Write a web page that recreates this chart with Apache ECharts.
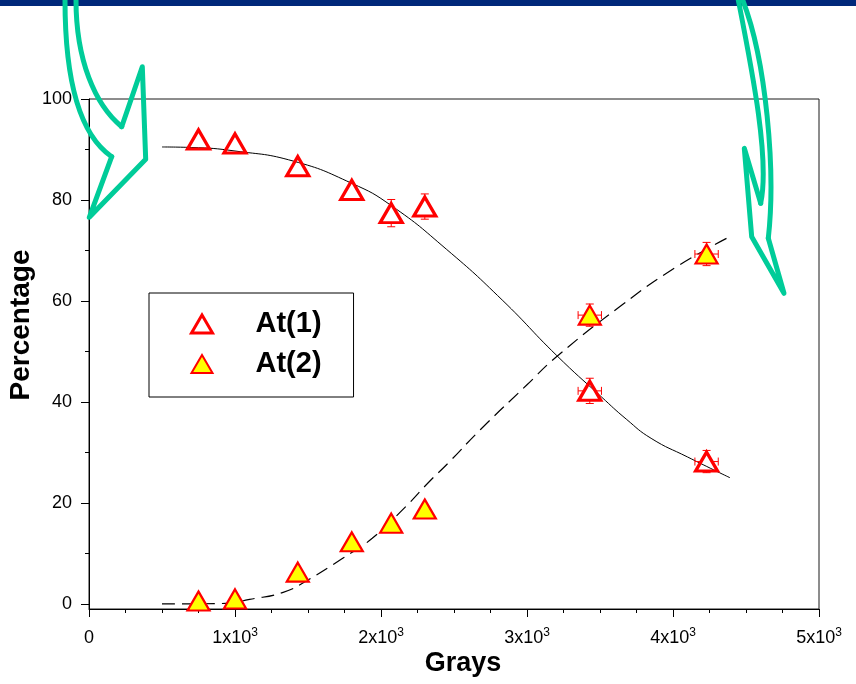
<!DOCTYPE html>
<html>
<head>
<meta charset="utf-8">
<script src="https://cdn.jsdelivr.net/npm/echarts@6/dist/echarts.min.js"></script>
<style>
  html, body { margin: 0; padding: 0; background: #ffffff; }
  #chart { width: 856px; height: 684px; }
</style>
</head>
<body>
<div id="chart"></div>
<script>
// Dose (Grays) at which each fraction was measured
const grays = [750, 1000, 1430, 1800, 2070, 2300, 3430, 4230];
const graysErr = [0, 0, 0, 0, 0, 0, 80, 80];

// At(1) percentage with its error
const at1 = [92.0, 91.2, 86.7, 82.0, 77.4, 78.7, 42.2, 28.2];
const at1Err = [1.0, 1.0, 1.0, 1.0, 2.7, 2.5, 2.5, 2.2];

// At(2) percentage with its error
const at2 = [0.6, 1.0, 6.3, 12.3, 16.0, 18.8, 57.2, 69.3];
const at2Err = [0.8, 0.8, 1.0, 1.0, 1.0, 1.0, 2.2, 2.3];

// Fitted curve for At(1) (solid)
const fit1Grays = [500, 700, 1000, 1400, 1800, 2070, 2450, 2830, 3200, 3510, 3680, 3850, 4100, 4390];
const fit1 = [90.5, 90.4, 89.7, 87.7, 83.3, 78.9, 70.2, 60.2, 49.3, 41.0, 36.6, 32.8, 29.1, 25.0];

// Fitted curve for At(2) (dashed)
const fit2Grays = [500, 940, 1100, 1330, 1490, 1735, 1940, 2170, 2330, 2460, 2680, 3000, 3200, 3650, 4010, 4380];
const fit2 = [0.0, 0.1, 0.9, 2.3, 4.6, 9.0, 13.0, 19.3, 24.2, 27.9, 34.5, 43.4, 48.9, 59.2, 66.5, 72.6];

// Axis ticks and their labels
const xTickValues = [0, 1000, 2000, 3000, 4000, 5000];
const xTickBase = ['0', '1x10', '2x10', '3x10', '4x10', '5x10'];
const xTickExp = ['', '3', '3', '3', '3', '3'];
const yTickValues = [0, 20, 40, 60, 80, 100];
const yMinorTickValues = [10, 30, 50, 70, 90];

const FONT = "'Liberation Sans', Arial, Helvetica, sans-serif";
const RED = '#ff0000';
const GREEN = '#00cc99';
const MARK_W = 22, MARK_H = 19;

function zip(xs, ys) { return xs.map((x, i) => [x, ys[i]]); }
function errData(xs, ys, ye, xe) { return xs.map((x, i) => [x, ys[i], ye[i], xe[i]]); }

// Error bars with caps; the stems stop at the edge of the triangle marker
function renderErrorBar(params, api) {
  const x = api.value(0), y = api.value(1), ey = api.value(2), ex = api.value(3);
  const style = { stroke: RED, lineWidth: 1, fill: null };
  const cap = 4;
  const c = api.coord([x, y]);
  const top = api.coord([x, y + ey]);
  const bot = api.coord([x, y - ey]);
  const children = [];
  const halfH = MARK_H / 2;
  if (c[1] - top[1] > halfH) {
    children.push(
      { type: 'line', shape: { x1: top[0], y1: top[1], x2: c[0], y2: c[1] - halfH }, style: style },
      { type: 'line', shape: { x1: top[0] - cap, y1: top[1], x2: top[0] + cap, y2: top[1] }, style: style }
    );
  }
  if (bot[1] - c[1] > halfH) {
    children.push(
      { type: 'line', shape: { x1: bot[0], y1: c[1] + halfH, x2: bot[0], y2: bot[1] }, style: style },
      { type: 'line', shape: { x1: bot[0] - cap, y1: bot[1], x2: bot[0] + cap, y2: bot[1] }, style: style }
    );
  }
  if (ex > 0) {
    const l = api.coord([x - ex, y]);
    const r = api.coord([x + ex, y]);
    const halfW = MARK_W / 4 + 1;
    children.push(
      { type: 'line', shape: { x1: l[0], y1: l[1], x2: c[0] - halfW, y2: c[1] }, style: style },
      { type: 'line', shape: { x1: c[0] + halfW, y1: c[1], x2: r[0], y2: r[1] }, style: style },
      { type: 'line', shape: { x1: l[0], y1: l[1] - cap, x2: l[0], y2: l[1] + cap }, style: style },
      { type: 'line', shape: { x1: r[0], y1: r[1] - cap, x2: r[0], y2: r[1] + cap }, style: style }
    );
  }
  return { type: 'group', children: children };
}

// Hand-drawn green arrows, built from curves and straight segments
const arrowStyle = { fill: null, stroke: GREEN, lineWidth: 5, lineJoin: 'round', lineCap: 'round' };
function bez(p0, c1, c2, p1) {
  return {
    type: 'bezierCurve', z: 10,
    shape: { x1: p0[0], y1: p0[1], cpx1: c1[0], cpy1: c1[1], cpx2: c2[0], cpy2: c2[1], x2: p1[0], y2: p1[1] },
    style: arrowStyle
  };
}
function poly(points) {
  return { type: 'polyline', z: 10, shape: { points: points }, style: arrowStyle };
}

const chart = echarts.init(document.getElementById('chart'), null, { renderer: 'canvas' });

chart.setOption({
  animation: false,
  backgroundColor: '#ffffff',
  textStyle: { fontFamily: FONT },
  grid: {
    left: 89, right: 37, top: 99, bottom: 75,
    show: true, borderColor: '#1a1a1a', borderWidth: 1, backgroundColor: 'transparent'
  },
  xAxis: {
    type: 'value', min: 0, max: 5000, interval: 1000,
    axisLine: { onZero: false, lineStyle: { color: '#000', width: 1 } },
    axisTick: { show: true, length: 8, lineStyle: { color: '#000' } },
    minorTick: { show: true, splitNumber: 4, length: 4, lineStyle: { color: '#000' } },
    splitLine: { show: false },
    axisLabel: {
      margin: 18,
      formatter: function (v) {
        const i = xTickValues.indexOf(v);
        if (i < 0) return '';
        return xTickExp[i] ? '{a|' + xTickBase[i] + '}{s|' + xTickExp[i] + '}' : '{a|' + xTickBase[i] + '}';
      },
      rich: {
        a: { fontSize: 18, color: '#000', fontFamily: FONT, lineHeight: 20, verticalAlign: 'bottom' },
        s: { fontSize: 12, color: '#000', fontFamily: FONT, lineHeight: 12, verticalAlign: 'top' }
      }
    }
  },
  yAxis: [
    {
      type: 'value', min: -1, max: 100,
      axisLine: { show: true, onZero: false, lineStyle: { color: '#000', width: 1 } },
      axisTick: { show: true, length: 8, customValues: yTickValues, lineStyle: { color: '#000' } },
      splitLine: { show: false },
      axisLabel: {
        customValues: yTickValues, margin: 17,
        fontSize: 18, color: '#000', fontFamily: FONT
      }
    },
    {
      type: 'value', min: -1, max: 100, position: 'left',
      axisLine: { show: false },
      axisTick: { show: true, length: 4, customValues: yMinorTickValues, lineStyle: { color: '#000' } },
      splitLine: { show: false },
      axisLabel: { show: false }
    }
  ],
  legend: {
    left: 149, top: 293, orient: 'vertical',
    borderColor: '#000', borderWidth: 1, borderRadius: 0,
    padding: [16, 32, 18, 41], itemGap: 10,
    itemWidth: 21, itemHeight: 18,
    selectedMode: false,
    textStyle: { fontSize: 29, fontWeight: 'bold', color: '#000', fontFamily: FONT, lineHeight: 30, padding: [0, 0, 0, 38] },
    data: [
      { name: 'At(1)', icon: 'triangle', itemStyle: { color: 'rgba(255,255,255,0)', borderColor: RED, borderWidth: 3, opacity: 1 } },
      { name: 'At(2)', icon: 'triangle', itemStyle: { color: '#ffff00', borderColor: RED, borderWidth: 2, opacity: 1 } }
    ]
  },
  series: [
    {
      name: 'fit At(1)', type: 'line', data: zip(fit1Grays, fit1),
      showSymbol: false, symbol: 'none', smooth: 0.5, silent: true,
      lineStyle: { color: '#000', width: 1 }, z: 2
    },
    {
      name: 'fit At(2)', type: 'line', data: zip(fit2Grays, fit2),
      showSymbol: false, symbol: 'none', smooth: 0.5, silent: true,
      lineStyle: { color: '#000', width: 1.2, type: [13, 7] }, z: 2
    },
    {
      name: 'At(1) error', type: 'custom', data: errData(grays, at1, at1Err, graysErr),
      renderItem: renderErrorBar, silent: true, z: 3
    },
    {
      name: 'At(2) error', type: 'custom', data: errData(grays, at2, at2Err, graysErr),
      renderItem: renderErrorBar, silent: true, z: 3
    },
    {
      name: 'At(1)', type: 'scatter', data: zip(grays, at1),
      symbol: 'triangle', symbolSize: [MARK_W, MARK_H],
      itemStyle: { color: 'rgba(255,255,255,0)', borderColor: RED, borderWidth: 3.2, opacity: 1 }, z: 4
    },
    {
      name: 'At(2)', type: 'scatter', data: zip(grays, at2),
      symbol: 'triangle', symbolSize: [MARK_W, MARK_H],
      itemStyle: { color: '#ffff00', borderColor: RED, borderWidth: 2.2, opacity: 1 }, z: 4
    }
  ],
  graphic: [
    { type: 'rect', z: 10, shape: { x: 0, y: 0, width: 856, height: 6 }, style: { fill: '#00287a' } },
    bez([65, 0], [65, 80], [80, 135], [111.7, 156.7]),
    poly([[111.7, 156.7], [89.3, 217.3], [145.7, 159.3], [142.3, 66.7], [121.7, 126.7]]),
    bez([121.7, 126.7], [95, 105], [76, 60], [76, 0]),
    bez([738.3, 0], [752, 70], [770, 160], [760.7, 203.3]),
    poly([[760.7, 203.3], [744.3, 148.3], [751.7, 236.7], [784, 293.3], [768.3, 238.3]]),
    bez([768.3, 238.3], [776, 170], [766, 60], [742.7, 0]),
    {
      type: 'text', x: 21, y: 325, rotation: Math.PI / 2, z: 10,
      style: {
        text: 'Percentage', fontSize: 28, fontWeight: 'bold', fontFamily: FONT, fill: '#000',
        textAlign: 'center', textVerticalAlign: 'middle', align: 'center', verticalAlign: 'middle'
      }
    },
    {
      type: 'text', x: 463, y: 664, z: 10,
      style: {
        text: 'Grays', fontSize: 27, fontWeight: 'bold', fontFamily: FONT, fill: '#000',
        textAlign: 'center', textVerticalAlign: 'middle', align: 'center', verticalAlign: 'middle'
      }
    }
  ]
});
</script>
</body>
</html>
